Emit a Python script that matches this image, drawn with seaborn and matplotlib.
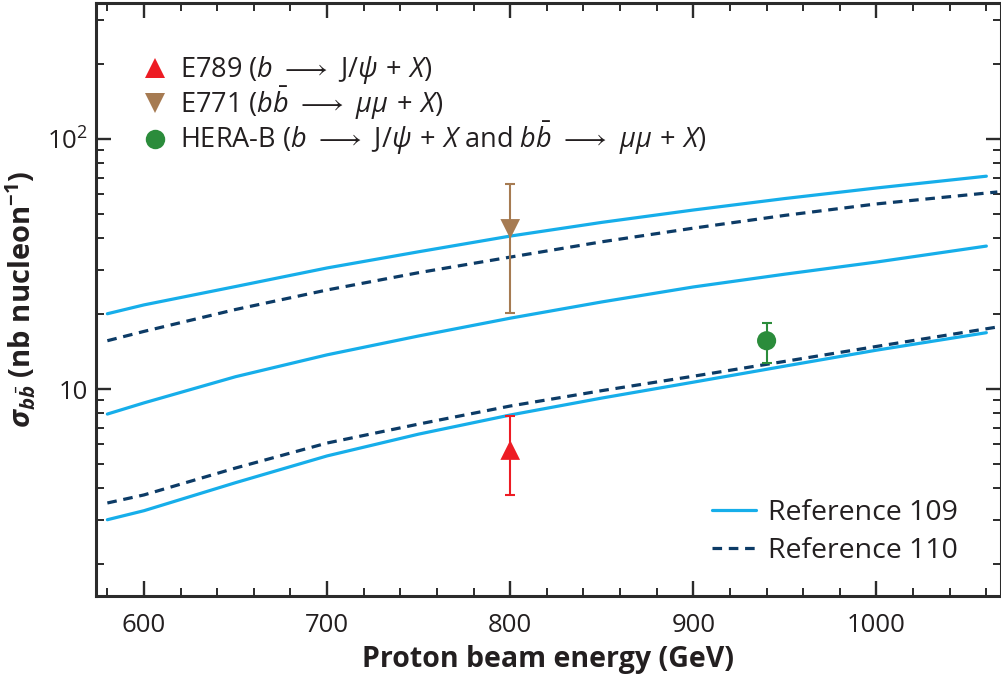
import numpy as np
import pandas as pd
import matplotlib
matplotlib.use("Agg")
import matplotlib.pyplot as plt
import matplotlib.ticker as mticker
from matplotlib.lines import Line2D
import seaborn as sns

# ---------------- data ----------------
energy_solid = [580, 600, 650, 700, 750, 800, 850, 900, 950, 1000, 1060]
energy_dash = [580, 600, 650, 700, 750, 800, 850, 900, 950, 1000, 1066]

ref109_high = [20.0, 21.7, 25.7, 30.5, 35.4, 40.9, 46.4, 52.0, 57.8, 63.7, 71.0]
ref110_high = [15.6, 17.0, 20.8, 24.9, 29.2, 33.7, 38.8, 44.0, 49.5, 55.0, 61.4]
ref109_low_a = [7.94, 8.8, 11.2, 13.7, 16.3, 19.2, 22.3, 25.6, 28.8, 32.2, 37.3]
ref110_low = [3.5, 3.77, 4.83, 6.08, 7.24, 8.55, 9.85, 11.25, 12.9, 14.8, 17.7]
ref109_low_b = [3.0, 3.26, 4.22, 5.4, 6.6, 7.87, 9.2, 10.65, 12.35, 14.3, 16.8]

exp_names = ["E789", "E771", "HERA-B"]
exp_energy = [800, 800, 940]
exp_sigma = [5.7, 43.7, 15.6]
exp_err_low = [3.77, 20.1, 12.7]
exp_err_high = [7.8, 66.0, 18.4]

exp_labels = [
    r"E789 ($b\ \longrightarrow\ \mathrm{J}/\psi \,+\, X$)",
    r"E771 ($b\bar{b}\ \longrightarrow\ \mu\mu \,+\, X$)",
    r"HERA-B ($b\ \longrightarrow\ \mathrm{J}/\psi \,+\, X$ and $b\bar{b}\ \longrightarrow\ \mu\mu \,+\, X$)",
]
curve_labels = ["Reference 109", "Reference 110"]

# ---------------- style ----------------
sns.set_theme(style="ticks")
plt.rcParams["font.family"] = ["Open Sans", "DejaVu Sans"]
plt.rcParams["mathtext.fontset"] = "custom"
plt.rcParams["mathtext.rm"] = "Open Sans"
plt.rcParams["mathtext.it"] = "Open Sans:italic"
plt.rcParams["mathtext.bf"] = "Open Sans:bold"
plt.rcParams["mathtext.bfit"] = "Open Sans:bold:italic"

C_SOLID = "#16AEEA"
C_DASH = "#0C3B66"
C_RED = "#ED1C24"
C_BROWN = "#A67B52"
C_GREEN = "#2B8C3B"
C_AX = "#2b2b2b"
C_TXT = "#231f20"

fig = plt.figure(figsize=(10.01, 6.75), dpi=100)
ax = fig.add_axes([96 / 1001, 1 - 596 / 675, 1 - 96 / 1001, (596 - 3) / 675])

dash_pat = (3.0, 2.1)
LW_SOLID = 2.3
LW_DASH = 2.3

def draw_curve(xs, ys, color, dashed):
    df = pd.DataFrame({"energy": xs, "sigma": ys})
    kw = dict(data=df, x="energy", y="sigma", ax=ax, color=color,
              estimator=None, sort=True, legend=False)
    if dashed:
        sns.lineplot(**kw, lw=LW_DASH, dashes=False, linestyle=(0, dash_pat))
    else:
        sns.lineplot(**kw, lw=LW_SOLID)

draw_curve(energy_solid, ref109_high, C_SOLID, False)
draw_curve(energy_dash, ref110_high, C_DASH, True)
draw_curve(energy_solid, ref109_low_a, C_SOLID, False)
draw_curve(energy_dash, ref110_low, C_DASH, True)
draw_curve(energy_solid, ref109_low_b, C_SOLID, False)

# experimental points
markers = ["^", "v", "o"]
colors = [C_RED, C_BROWN, C_GREEN]
sizes = [200, 200, 190]
exp_df = pd.DataFrame({"name": exp_names, "energy": exp_energy, "sigma": exp_sigma})
for i, name in enumerate(exp_names):
    ax.errorbar(exp_energy[i], exp_sigma[i],
                yerr=[[exp_sigma[i] - exp_err_low[i]], [exp_err_high[i] - exp_sigma[i]]],
                fmt="none", ecolor=colors[i], elinewidth=1.5, capsize=3.5, capthick=1.5, zorder=3)
    sns.scatterplot(data=exp_df[exp_df["name"] == name], x="energy", y="sigma", ax=ax,
                    marker=markers[i], color=colors[i], s=sizes[i], edgecolor="none",
                    zorder=4, legend=False)

# ---------------- axes ----------------
ax.set_yscale("log")
ax.set_xlim(573.8, 1068)
ax.set_ylim(1.486, 350)

ax.xaxis.set_major_locator(mticker.FixedLocator([600, 700, 800, 900, 1000]))
ax.xaxis.set_minor_locator(mticker.MultipleLocator(20))
ax.yaxis.set_major_locator(mticker.FixedLocator([10, 100]))
ax.yaxis.set_minor_locator(mticker.FixedLocator([2, 3, 4, 5, 6, 7, 8, 9,
                                                  20, 30, 40, 50, 60, 70, 80, 90, 200, 300]))
ax.yaxis.set_major_formatter(mticker.FixedFormatter(["10", r"$10^2$"]))
ax.yaxis.set_minor_formatter(mticker.NullFormatter())

ax.tick_params(which="both", direction="in", top=True, right=True, color=C_AX,
               labelsize=18.5, labelcolor=C_TXT)
ax.tick_params(which="major", length=11, width=1.7)
ax.tick_params(which="minor", length=6, width=1.4)
ax.tick_params(axis="x", which="major", pad=12)
ax.tick_params(axis="y", which="major", pad=6)
for sp in ax.spines.values():
    sp.set_color(C_AX)
    sp.set_linewidth(2.2)

ax.set_xlabel("Proton beam energy (GeV)", fontsize=20.5, fontweight="bold",
              color=C_TXT, labelpad=5)
ax.set_ylabel(r"$\mathbfit{\sigma}_{\mathbfit{b}\bar{\mathbfit{b}}}$ (nb nucleon$^{\mathbf{-1}}$)",
              fontsize=21, fontweight="bold", color=C_TXT, labelpad=6)

# ---------------- legends ----------------
mk_handles = [Line2D([], [], ls="none", marker=markers[i], color=colors[i],
                     markersize=14, markeredgewidth=0) for i in range(3)]
leg1 = ax.legend(mk_handles, exp_labels, loc="upper left",
                 bbox_to_anchor=(143 / 1001, 1 - 54 / 675), bbox_transform=fig.transFigure,
                 frameon=False, fontsize=19.5, handlelength=0.9, handletextpad=0.45,
                 labelspacing=-0.06, borderpad=0, borderaxespad=0, labelcolor=C_TXT)
ax.add_artist(leg1)

ln_handles = [Line2D([], [], color=C_SOLID, lw=LW_SOLID),
              Line2D([], [], color=C_DASH, lw=LW_DASH, linestyle=(0, dash_pat))]
ax.legend(ln_handles, curve_labels, loc="upper left",
          bbox_to_anchor=(712 / 1001, 1 - 499 / 675), bbox_transform=fig.transFigure,
          frameon=False, fontsize=20.5, handlelength=1.55, handletextpad=0.4,
          labelspacing=0.35, borderpad=0, borderaxespad=0, labelcolor=C_TXT)

fig.savefig("out.png", dpi=100)
